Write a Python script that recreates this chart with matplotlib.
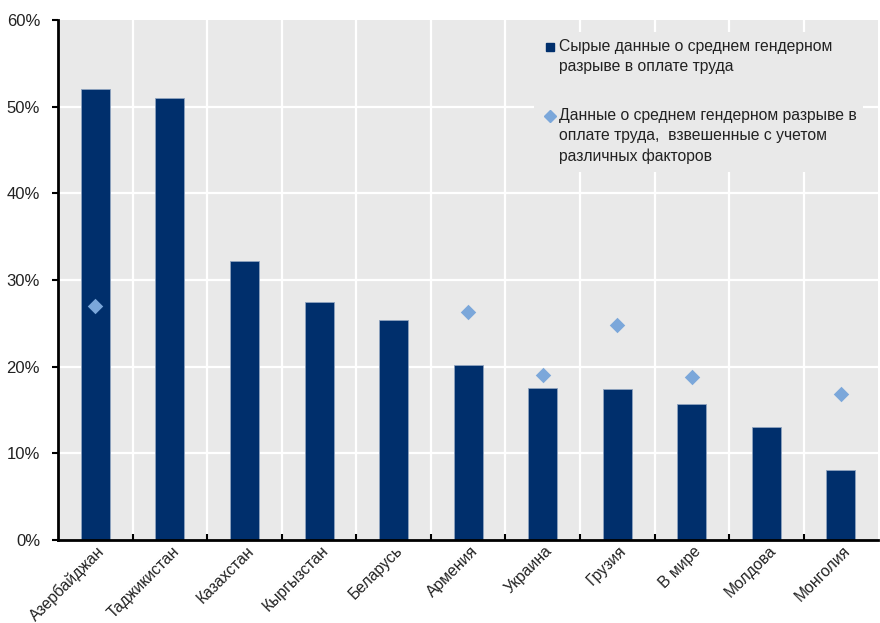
import matplotlib.pyplot as plt
import matplotlib.transforms as mtransforms
import numpy as np

countries = ['Азербайджан', 'Таджикистан', 'Казахстан', 'Кыргызстан', 'Беларусь',
             'Армения', 'Украина', 'Грузия', 'В мире', 'Молдова', 'Монголия']
raw_gap = [52.0, 51.0, 32.2, 27.5, 25.4, 20.2, 17.6, 17.4, 15.7, 13.0, 8.1]
weighted_gap = [27.0, None, None, None, None, 26.3, 19.1, 24.8, 18.8, None, 16.9]
legend_labels = [
    'Сырые данные о среднем гендерном\nразрыве в оплате труда',
    'Данные о среднем гендерном разрыве в\nоплате труда,  взвешенные с учетом\nразличных факторов',
]

NAVY = '#002f6c'
LIGHT = '#7ba7da'
BG = '#e9e9e9'
TXT = '#222222'

plt.rcParams['font.family'] = ['Liberation Sans', 'DejaVu Sans']

fig = plt.figure(figsize=(8.8, 6.23), dpi=100)
ax = fig.add_axes([0.066, 0.133, 0.932, 0.835])
ax.set_facecolor(BG)

x = np.arange(len(countries))
ax.bar(x, raw_gap, width=0.39, color=NAVY, edgecolor='#8fa3bf', linewidth=0.6, zorder=3)

wx = [i for i, v in enumerate(weighted_gap) if v is not None]
wy = [v for v in weighted_gap if v is not None]
ax.scatter(wx, wy, marker='D', s=62, color=LIGHT, zorder=4, linewidths=0)

ax.set_xlim(-0.5, len(countries) - 0.5)
ax.set_ylim(0, 60)
ax.set_yticks(range(0, 61, 10))
ax.set_yticklabels([f'{v}%' for v in range(0, 61, 10)], fontsize=12, color=TXT)

# white grid: horizontal at each tick, vertical between categories
for v in range(10, 60, 10):
    ax.axhline(v, color='white', lw=1.6, zorder=1)
for b in np.arange(0.5, len(countries) - 0.5, 1):
    ax.axvline(b, color='white', lw=1.6, zorder=1)

# boundary ticks (major) and category labels (minor)
ax.set_xticks(np.arange(0.5, len(countries) - 0.5, 1))
ax.set_xticklabels([])
ax.tick_params(axis='x', which='major', direction='in', length=4, width=1.5, color='black')
ax.set_xticks(x, minor=True)
ax.set_xticklabels(countries, minor=True, rotation=45, ha='right', va='center',
                   rotation_mode='anchor', fontsize=11.3, color=TXT)
ax.tick_params(axis='x', which='minor', length=0, pad=6)
shift = mtransforms.ScaledTranslation(7 / 100, 0, fig.dpi_scale_trans)
for lbl in ax.get_xticklabels(minor=True):
    lbl.set_transform(lbl.get_transform() + shift)
ax.tick_params(axis='y', direction='out', length=4, width=1.5, color='black', pad=9)

for s in ['top', 'right']:
    ax.spines[s].set_visible(False)
for s in ['left', 'bottom']:
    ax.spines[s].set_linewidth(2)
    ax.spines[s].set_zorder(5)

# legend box drawn by hand so markers sit on the first line of each entry
ax.add_patch(plt.Rectangle((0.58, 0.708), 0.402, 0.269, transform=ax.transAxes,
                           facecolor=BG, edgecolor='none', zorder=6))
ax.plot([0.600], [0.948], marker='s', markersize=6, color=NAVY,
        transform=ax.transAxes, zorder=7, clip_on=False)
ax.plot([0.600], [0.815], marker='D', markersize=6, color=LIGHT,
        transform=ax.transAxes, zorder=7, clip_on=False)
ax.text(0.611, 0.964, legend_labels[0], transform=ax.transAxes, va='top', ha='left',
        fontsize=11.3, color=TXT, linespacing=1.45, zorder=7)
ax.text(0.611, 0.831, legend_labels[1], transform=ax.transAxes, va='top', ha='left',
        fontsize=11.3, color=TXT, linespacing=1.45, zorder=7)

fig.savefig('out.png', dpi=100)
